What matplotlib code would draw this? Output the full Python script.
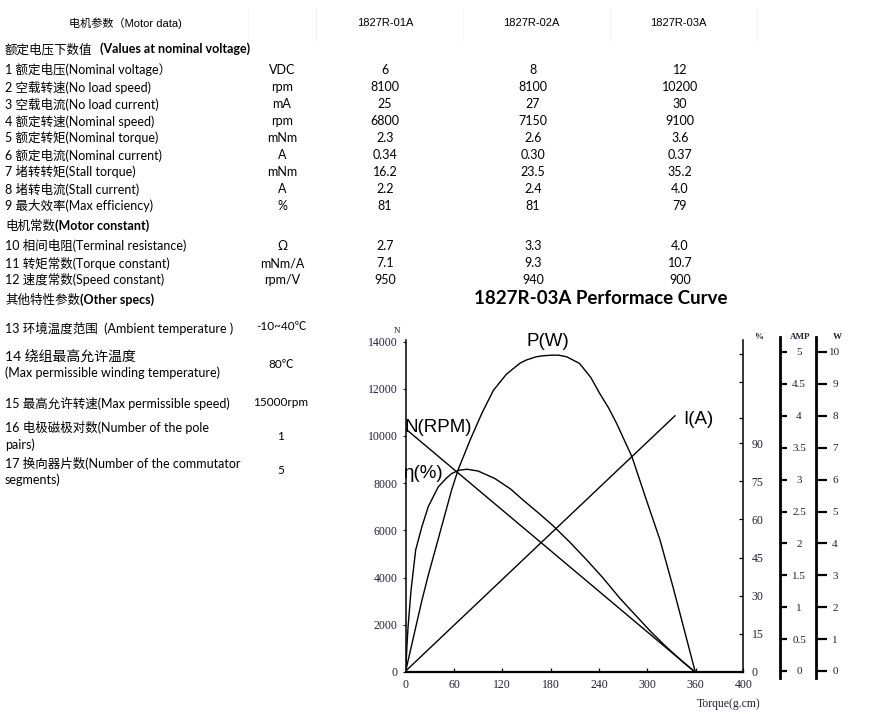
import matplotlib
matplotlib.use('Agg')
import matplotlib.pyplot as plt
from matplotlib.lines import Line2D

# ---------------- data ----------------
models = ["1827R-01A", "1827R-02A", "1827R-03A"]
row_labels = ["1 额定电压(Nominal voltage）", "2 空载转速(No load speed)", "3 空载电流(No load current)",
              "4 额定转速(Nominal speed)", "5 额定转矩(Nominal torque)", "6 额定电流(Nominal current)",
              "7 堵转转矩(Stall torque)", "8 堵转电流(Stall current)", "9 最大效率(Max efficiency)"]
row_units = ["VDC", "rpm", "mA", "rpm", "mNm", "A", "mNm", "A", "%"]
vals_01a = ["6", "8100", "25", "6800", "2.3", "0.34", "16.2", "2.2", "81"]
vals_02a = ["8", "8100", "27", "7150", "2.6", "0.30", "23.5", "2.4", "81"]
vals_03a = ["12", "10200", "30", "9100", "3.6", "0.37", "35.2", "4.0", "79"]

const_labels = ["10 相间电阻(Terminal resistance)", "11 转矩常数(Torque constant)", "12 速度常数(Speed constant)"]
const_units = ["Ω", "mNm/A", "rpm/V"]
const_01a = ["2.7", "7.1", "950"]
const_02a = ["3.3", "9.3", "940"]
const_03a = ["4.0", "10.7", "900"]

other_values = ["-10~40℃", "80℃", "15000rpm", "1", "5"]

# performance curve (torque in g.cm)
torque_n = [0, 359.4]
speed_rpm = [10300, 0]
torque_i = [0, 334.5]
current_a = [0, 4.0]
torque_p = [0, 10, 20, 28, 40, 57, 65, 80, 95, 109, 125, 142, 150, 162, 170, 181, 190, 200,
            216, 230, 241, 252, 262, 281, 299, 316, 332, 345, 359.4]
power_w = [0, 1.1, 2.2, 3.0, 4.1, 5.67, 6.3, 7.24, 8.1, 8.8, 9.3, 9.65, 9.75, 9.85, 9.88, 9.9, 9.9, 9.85,
           9.64, 9.2, 8.7, 8.25, 7.76, 6.72, 5.36, 4.1, 2.64, 1.39, 0]
torque_e = [0, 1.5, 3, 6.6, 12.4, 20, 28, 40.5, 50, 57, 66, 76, 90, 111, 130, 148, 165, 183,
            204, 225, 245, 266, 285, 304, 320, 332, 345, 359.4]
eff_pct = [0, 10, 18, 32, 48, 57, 65, 72.8, 76, 78, 79.3, 79.7, 79, 76, 72, 67, 62.5, 57.5,
           51, 44, 37, 29, 22.5, 16, 11, 7.5, 3.8, 0]

x_ticks = [0, 60, 120, 180, 240, 300, 360]
x_end_label = "400"
speed_ticks = [0, 2000, 4000, 6000, 8000, 10000, 12000, 14000]
pct_ticks = [0, 15, 30, 45, 60, 75, 90]
pct_minor = [100, 114, 125]
amp_ticks = [0, 0.5, 1, 1.5, 2, 2.5, 3, 3.5, 4, 4.5, 5]
w_ticks = [0, 1, 2, 3, 4, 5, 6, 7, 8, 9, 10]

# ---------------- figure ----------------
WPX, HPX = 869, 714
fig = plt.figure(figsize=(WPX / 100, HPX / 100), dpi=100)


def fx(x):
    return x / WPX


def fy(y):
    return 1 - y / HPX


TXT = ['Lato', 'Noto Sans CJK SC', 'DejaVu Sans']
HDR = ['Liberation Sans', 'Noto Sans CJK SC', 'DejaVu Sans']
SER = ['Liberation Serif', 'Noto Sans CJK SC', 'DejaVu Serif']
TICKC = '#222233'


def t(x, y, s, size=9, fam=TXT, ha='left', weight='normal', color='black'):
    return fig.text(fx(x), fy(y), s, fontsize=size, family=fam, ha=ha, va='center',
                    fontweight=weight, color=color)


# header row
t(125, 23, "电机参数（Motor data)", size=8, fam=HDR, ha='center')
for xc, m in zip([385, 531, 678], models):
    t(xc, 23, m, size=8, fam=HDR, ha='center')
for xl in [248, 316, 463, 610, 757]:
    fig.add_artist(Line2D([fx(xl), fx(xl)], [fy(8), fy(42)], color='#f6f6f6', lw=0.8))

fig.canvas.draw()
renderer = fig.canvas.get_renderer()


def mixed(x, y, normal, bold, gap=0, size=9):
    a = t(x, y, normal, size=size)
    bb = a.get_window_extent(renderer)
    t(bb.x1 + gap, y, bold, size=size, weight='bold')


mixed(5, 49, "额定电压下数值", "(Values at nominal voltage)", gap=8)

col_x = [385, 533, 680]
unit_x = 282
row_y = [70, 87, 104, 121, 138, 155, 172, 189, 206]
for i, y in enumerate(row_y):
    t(5, y, row_labels[i])
    t(unit_x, y, row_units[i], ha='center')
    for xc, vals in zip(col_x, [vals_01a, vals_02a, vals_03a]):
        t(xc, y, vals[i], ha='center')

mixed(5, 226, "电机常数", "(Motor constant)")
const_y = [246, 263, 280]
for i, y in enumerate(const_y):
    t(5, y, const_labels[i])
    t(unit_x, y, const_units[i], ha='center')
    for xc, vals in zip(col_x, [const_01a, const_02a, const_03a]):
        t(xc, y, vals[i], ha='center')

mixed(5, 300, "其他特性参数", "(Other specs)")

t(5, 328, "13 环境温度范围  (Ambient temperature )")
t(5, 356, "14 绕组最高允许温度", size=10)
t(5, 373, "(Max permissible winding temperature)")
t(5, 403, "15 最高允许转速(Max permissible speed)")
t(5, 428, "16 电极磁极对数(Number of the pole")
t(5, 445, "pairs)")
t(5, 463, "17 换向器片数(Number of the commutator")
t(5, 480, "segments)")
for y, v in zip([327, 364, 402, 436, 470], other_values):
    t(281, y, v, size=8.5, ha='center')

# title
t(601, 298, "1827R-03A Performace Curve", size=13.5, ha='center', weight='bold')

# ---------------- chart ----------------
L, R, B, T = 405.7, 743.3, 672, 340
ax = fig.add_axes([fx(L), fy(B), (R - L) / WPX, (B - T) / HPX])
px_per_unit_x = 48.3 / 60
x_max = (R - L) / px_per_unit_x
ax.set_xlim(0, x_max)
ax.set_ylim(0, 14000 * (B - T) / (B - 341.6))
ax.patch.set_visible(False)
for s in ['top', 'right']:
    ax.spines[s].set_visible(False)
ax.spines['left'].set_linewidth(1.1)
ax.spines['bottom'].set_linewidth(1.6)
ax.set_xticks(x_ticks + [x_max])
ax.set_xticklabels([str(v) for v in x_ticks] + [x_end_label])
ax.set_yticks(speed_ticks)
ax.set_yticklabels([str(v) for v in speed_ticks])
ax.tick_params(axis='x', direction='in', length=3, width=0.9, pad=5,
               labelsize=8.5, labelcolor=TICKC)
ax.tick_params(axis='y', direction='out', length=2, width=0.8, pad=4,
               labelsize=8.5, labelcolor=TICKC)
for lab in ax.get_xticklabels() + ax.get_yticklabels():
    lab.set_family(SER)

LW = 1.0
# N line on main axis
ax.plot(torque_n, speed_rpm, color='black', lw=LW)

# % axis
axp = ax.twinx()
axp.set_ylim(0, (B - T) / 2.544)
axp.patch.set_visible(False)
for s in ['top', 'left', 'bottom']:
    axp.spines[s].set_visible(False)
axp.spines['right'].set_linewidth(1.1)
axp.set_yticks(pct_ticks)
axp.set_yticklabels([str(v) for v in pct_ticks])
axp.set_yticks(pct_minor, minor=True)
axp.tick_params(axis='y', which='both', direction='in', length=3, width=0.9, pad=6,
                labelsize=8.5, labelcolor=TICKC)
for lab in axp.get_yticklabels():
    lab.set_family(SER)
axp.plot(torque_e, eff_pct, color='black', lw=LW, solid_joinstyle='round')

# hidden axes for current & power
amp0 = 671
amp_px = 63.8
axi = ax.twinx()
axi.set_ylim((amp0 - B) / amp_px, (amp0 - T) / amp_px)
axi.axis('off')
axi.plot(torque_i, current_a, color='black', lw=LW)

axw = ax.twinx()
axw.set_ylim((amp0 - B) / (amp_px / 2), (amp0 - T) / (amp_px / 2))
axw.axis('off')
axw.plot(torque_p, power_w, color='black', lw=LW, solid_joinstyle='round')

# display scale axes (AMP, W)
DB, DT = 678, 337


def scale_axis(xspine, unit_px, ticks, labels, ticklen, pad):
    a = fig.add_axes([fx(xspine - 10), fy(DB), 10 / WPX, (DB - DT) / HPX])
    a.patch.set_visible(False)
    a.set_xticks([])
    for s in ['top', 'left', 'bottom']:
        a.spines[s].set_visible(False)
    a.spines['right'].set_linewidth(2.0)
    a.yaxis.tick_right()
    a.set_ylim((amp0 - DB) / unit_px, (amp0 - DT) / unit_px)
    a.set_yticks(ticks)
    a.set_yticklabels(labels)
    a.tick_params(axis='y', direction='out', length=ticklen, width=1.6, pad=pad,
                  labelsize=8, labelcolor=TICKC)
    for lab in a.get_yticklabels():
        lab.set_family(SER)
        lab.set_ha('center')
    return a


scale_axis(780, amp_px, amp_ticks, [f"{v:g}" for v in amp_ticks], 5.2, 8.5)
scale_axis(816, amp_px / 2, w_ticks, [str(v) for v in w_ticks], 7.6, 6.0)

# unit headers
t(397, 331, "N", size=6.5, fam=SER, ha='center', color=TICKC)
t(759, 337, "%", size=6.5, fam=SER, ha='center', weight='bold', color=TICKC)
t(800, 337, "AMP", size=6.5, fam=SER, ha='center', weight='bold', color=TICKC)
t(837, 337, "W", size=6.5, fam=SER, ha='center', weight='bold', color=TICKC)
t(729, 704, "Torque(g.cm)", size=8.5, fam=SER, ha='center', color=TICKC)

# curve labels
t(548, 341, "P(W)", size=13.5, fam=HDR, ha='center')
t(405, 427, "N(RPM)", size=13.5, fam=HDR)
t(403, 473, "η(%)", size=13.5, fam=HDR)
t(683, 419, "I(A)", size=13.5, fam=HDR)

fig.savefig('out.png', dpi=100)
